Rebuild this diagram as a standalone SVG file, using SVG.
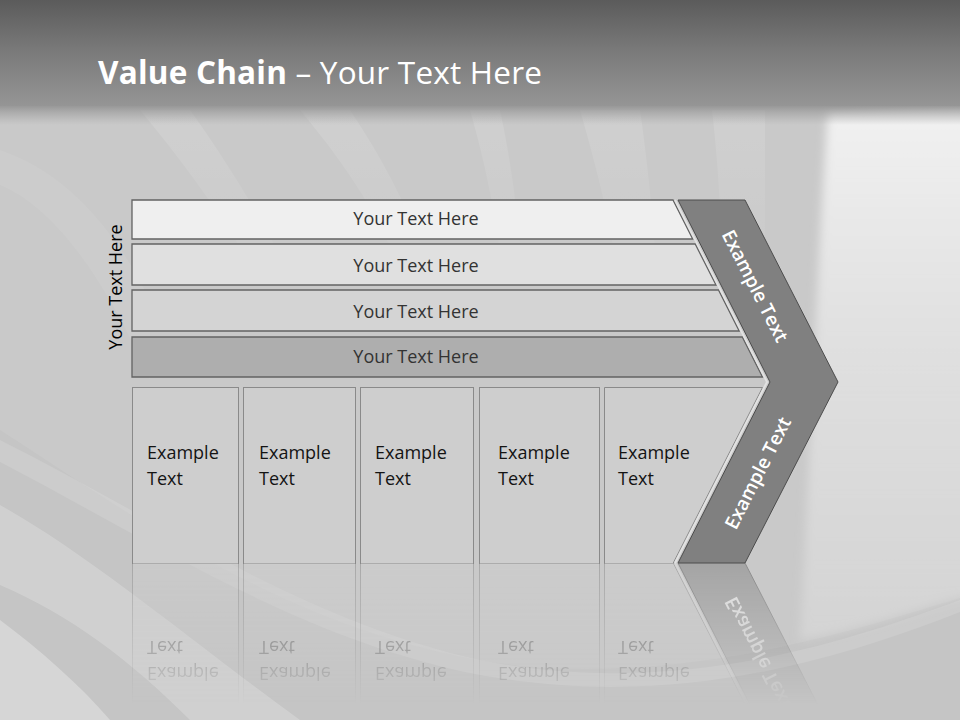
<svg xmlns="http://www.w3.org/2000/svg" xmlns:xlink="http://www.w3.org/1999/xlink" width="960" height="720" viewBox="0 0 960 720">
<style>
.bar{stroke:#636363;stroke-width:1.3}
.bt{font-family:"Open Sans","DejaVu Sans",sans-serif;font-size:18px;fill:#333;text-anchor:middle}
.box{fill:#cecece;stroke:#8a8a8a;stroke-width:1}
.xt{font-family:"Open Sans","DejaVu Sans",sans-serif;font-size:18px;fill:#141414}
.ct{font-family:"Open Sans","DejaVu Sans",sans-serif;font-size:19px;font-weight:600;fill:#fff;text-anchor:middle}
.sw{fill:#fff}
</style>
<defs>
<linearGradient id="gTop" x1="0" y1="0" x2="0" y2="1">
<stop offset="0" stop-color="#5b5b5b"/><stop offset="0.5" stop-color="#7b7b7b"/><stop offset="1" stop-color="#959595"/>
</linearGradient>
<linearGradient id="gFade" x1="0" y1="0" x2="0" y2="1">
<stop offset="0" stop-color="#959595" stop-opacity="1"/><stop offset="1" stop-color="#a5a5a5" stop-opacity="0"/>
</linearGradient>
<linearGradient id="gRight" x1="0" y1="0" x2="0" y2="1">
<stop offset="0" stop-color="#f2f2f2" stop-opacity="1"/><stop offset="0.45" stop-color="#e4e4e4" stop-opacity="0.85"/><stop offset="1" stop-color="#dddddd" stop-opacity="0.55"/>
</linearGradient>
<linearGradient id="gStripe" x1="0" y1="0" x2="0" y2="1">
<stop offset="0" stop-color="#fff" stop-opacity="0.13"/><stop offset="1" stop-color="#fff" stop-opacity="0"/>
</linearGradient>
<linearGradient id="gRm" gradientUnits="userSpaceOnUse" x1="0" y1="563" x2="0" y2="705">
<stop offset="0" stop-color="#fff" stop-opacity="0.5"/><stop offset="0.6" stop-color="#fff" stop-opacity="0.22"/><stop offset="1" stop-color="#fff" stop-opacity="0"/>
</linearGradient>
<mask id="rm" maskUnits="userSpaceOnUse" x="0" y="563" width="960" height="157">
<rect x="0" y="563" width="960" height="157" fill="url(#gRm)"/>
</mask>
<filter id="soft" x="-0.2" y="-0.1" width="1.4" height="1.2"><feGaussianBlur stdDeviation="5"/></filter>
</defs>

<g id="background">
<rect x="0" y="0" width="960" height="720" fill="#c9c9c9"/>
<path d="M0,430 C140,520 300,640 520,666 C700,682 860,628 960,598 L960,720 L0,720 Z" fill="#c5c5c5"/>
<path d="M828,110 C818,250 812,420 800,640 C860,630 910,612 960,598 L990,598 L990,100 Z" fill="url(#gRight)" filter="url(#soft)"/>
<path d="M0,440 C160,520 300,620 480,660 C680,700 850,640 960,600 L960,612 C850,655 680,712 480,675 C300,640 150,540 0,462 Z" class="sw" opacity="0.12"/>
<path d="M0,505 C90,555 190,640 300,720 L190,720 C130,660 70,615 0,585 Z" class="sw" opacity="0.2"/>
<path d="M0,620 C40,650 80,685 110,720 L0,720 Z" class="sw" opacity="0.3"/>
<path d="M0,150 C60,170 110,220 150,300 L150,380 C110,290 60,210 0,185 Z" class="sw" opacity="0.06"/>
<path d="M140,110 L190,110 C240,180 280,250 300,300 L270,300 C240,240 190,170 140,110 Z" fill="url(#gStripe)"/>
<path d="M300,110 L350,110 C390,170 420,230 440,300 L410,300 C390,230 350,170 300,110 Z" fill="url(#gStripe)"/>
<path d="M470,110 L500,110 C515,180 520,240 525,300 L505,300 C500,240 490,180 470,110 Z" fill="url(#gStripe)"/>
<path d="M580,110 L640,110 C650,180 655,240 658,300 L620,300 C615,240 600,180 580,110 Z" fill="url(#gStripe)"/>
<path d="M712,110 L765,110 C765,180 765,240 765,300 L722,300 C722,240 720,180 712,110 Z" fill="url(#gStripe)"/>
<rect x="0" y="0" width="960" height="106" fill="url(#gTop)"/>
<rect x="0" y="105" width="960" height="20" fill="url(#gFade)"/>
</g>

<g id="title">
<text x="98" y="84" font-family="'Open Sans','DejaVu Sans',sans-serif" font-size="31.5" fill="#fff" textLength="444" lengthAdjust="spacing"><tspan font-weight="700">Value Chain</tspan> – Your Text Here</text>
</g>

<g id="side-label">
<text transform="translate(122,287) rotate(-90)" font-family="'Open Sans','DejaVu Sans',sans-serif" font-size="18" fill="#000" text-anchor="middle">Your Text Here</text>
</g>

<g id="bars">
<g id="bar1"><path class="bar" d="M132,200 L673,200 L692.7,239 L132,239 Z" fill="#efefef"/><text class="bt" x="416" y="225">Your Text Here</text></g>
<g id="bar2"><path class="bar" d="M132,244 L695.2,244 L716,285 L132,285 Z" fill="#e0e0e0"/><text class="bt" x="416" y="272">Your Text Here</text></g>
<g id="bar3"><path class="bar" d="M132,290 L718.5,290 L739.2,331 L132,331 Z" fill="#d4d4d4"/><text class="bt" x="416" y="317.5">Your Text Here</text></g>
<g id="bar4"><path class="bar" d="M132,337 L742.3,337 L762.5,377 L132,377 Z" fill="#aeaeae"/><text class="bt" x="416" y="362.5">Your Text Here</text></g>
</g>

<g id="lower">
<g id="box1"><rect class="box" x="132.5" y="387.5" width="106" height="176"/><text class="xt" x="147" y="459">Example</text><text class="xt" x="147" y="485">Text</text></g>
<g id="box2"><rect class="box" x="243.5" y="387.5" width="112" height="176"/><text class="xt" x="259" y="459">Example</text><text class="xt" x="259" y="485">Text</text></g>
<g id="box3"><rect class="box" x="360.5" y="387.5" width="113" height="176"/><text class="xt" x="375" y="459">Example</text><text class="xt" x="375" y="485">Text</text></g>
<g id="box4"><rect class="box" x="479.5" y="387.5" width="120" height="176"/><text class="xt" x="498" y="459">Example</text><text class="xt" x="498" y="485">Text</text></g>
<g id="box5"><path class="box" d="M604.5,387.5 L762.5,387.5 L673,563.5 L604.5,563.5 Z"/><text class="xt" x="618" y="459">Example</text><text class="xt" x="618" y="485">Text</text></g>
</g>

<g id="chevron">
<polyline points="675,200 767,382 675,563" fill="none" stroke="#e2e2e2" stroke-width="2"/>
<polygon points="678,200 745,200 838,382 745,563 678,563 770,382" fill="#808080" stroke="#4c4c4c" stroke-width="1"/>
<text class="ct" transform="translate(755,286) rotate(63)" y="6.5">Example Text</text>
<text class="ct" transform="translate(758,473) rotate(-63)" y="6.5">Example Text</text>
</g>

<g id="reflection" mask="url(#rm)">
<g transform="matrix(1,0,0,-1,0,1126)">
<use xlink:href="#lower"/>
<use xlink:href="#chevron"/>
</g>
</g>
</svg>
